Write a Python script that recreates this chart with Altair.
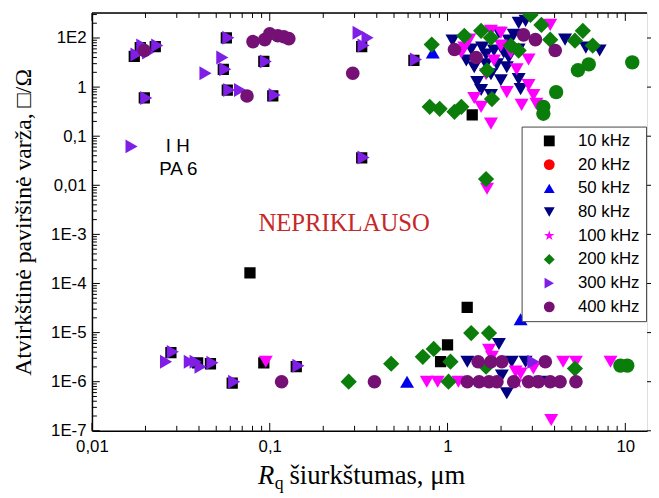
import altair as alt
import pandas as pd

# ---------------- series definitions ----------------
SERIES = ["10 kHz", "20 kHz", "50 kHz", "80 kHz", "100 kHz", "200 kHz", "300 kHz", "400 kHz"]
COLORS = ["#000000", "#ff0000", "#0000ee", "#000080", "#ff00ff", "#0a7d0a", "#7f1fe6", "#751075"]
STAR = ("M0,-1L0.2245,-0.309L0.951,-0.309L0.363,0.118L0.588,0.809L0,0.382"
        "L-0.588,0.809L-0.363,0.118L-0.951,-0.309L-0.2245,-0.309Z")
SHAPES = ["square", "circle", "triangle-up", "triangle-down", STAR, "diamond", "triangle-right", "circle"]
SIZES = {"10 kHz": 130, "20 kHz": 170, "50 kHz": 200, "80 kHz": 200, "100 kHz": 240,
         "200 kHz": 270, "300 kHz": 200, "400 kHz": 190}

# ---------------- data ----------------
f10_x = [0.0197, 0.0187, 0.0227, 0.0173, 0.0570, 0.0548, 0.0577, 0.0926, 0.104, 0.329, 0.329, 0.647,
         0.0278, 0.0393, 0.0464, 0.0615, 0.141, 0.0926, 0.0774, 1.29, 1.0, 0.914, 1.377]
f10_y = [0.60, 6.38, 6.68, 4.2, 10.1, 2.30, 0.87, 3.33, 0.66, 6.68, 0.036, 3.49,
         3.9e-6, 2.43e-6, 2.32e-6, 9.4e-7, 2.02e-6, 2.43e-6, 1.65e-4, 3.26e-5, 5.6e-6, 2.55e-6, 0.273]

f50_x = [0.826, 0.592, 2.577]
f50_y = [5.06, 1.0e-6, 1.87e-5]

f80_x = [1.066, 1.275, 1.564, 1.824, 1.896, 1.755, 1.468, 1.995, 2.154, 1.755,
         2.356, 2.512, 2.747, 4.582, 5.995, 7.172, 2.512, 2.512, 2.577, 1.647,
         2.21, 1.413, 2.07, 1.359, 1.647, 2.21, 1.945, 1.545,
         1.945, 2.021, 2.154, 2.297, 2.747, 3.327, 1.292]
f80_y = [8.83, 3.49, 6.38, 5.55, 2.90, 1.83, 1.26, 1.38, 2.53, 0.69,
         11.6, 20.3, 22.3, 9.25, 6.38, 5.55, 5.82, 1.45, 0.91, 2.90,
         4.01, 2.53, 5.06, 5.82, 4.6, 8.83, 12.8, 0.87,
         5.87e-6, 1.33e-6, 5.8e-7, 2.55e-6, 2.55e-6, 1.0e-6, 2.55e-6]

# 100 kHz: one drawn as a star, the rest drawn as magenta down-triangles in the picture
f100_star_x = [2.448]
f100_star_y = [1.0e-6]
f100_tri_x = [1.196, 1.325, 1.755, 1.995, 1.995, 1.647, 2.154, 1.413, 1.545, 1.755,
              3.781, 2.856, 2.448, 2.856, 3.041, 2.610, 3.162, 1.668, 0.095, 0.764,
              0.880, 1.151, 1.711, 1.778, 2.416, 2.577, 3.041, 4.467, 5.275, 8.254, 3.83,
              1.243, 2.27, 1.824]
f100_tri_y = [5.06, 9.25, 14.0, 12.8, 7.0, 1.83, 0.79, 0.60, 0.396, 0.180,
              18.5, 3.66, 2.30, 1.10, 0.69, 0.434, 0.455, 0.0085, 2.55e-6, 1.0e-6,
              1.0e-6, 1.0e-6, 4.44e-6, 3.21e-6, 1.60e-6, 1.46e-6, 1.85e-6, 2.55e-6, 2.55e-6, 2.55e-6, 1.66e-7,
              6.38, 5.06, 3.49]

# 200 kHz: diamonds, plus some drawn as round markers in the picture
f200_x = [0.815, 1.545, 1.755, 1.668, 2.929, 3.373, 3.781, 5.768, 5.207, 6.555,
          2.512, 1.778, 0.794, 0.903, 1.094, 1.196, 0.278, 0.482, 0.726, 0.836,
          1.359, 1.711, 1.039, 1.013, 1.647, 5.207, 1.647, 2.27, 1.243]
f200_y = [7.33, 14.0, 10.1, 2.20, 29.4, 18.5, 9.25, 14.0, 8.83, 7.0,
          5.55, 0.57, 0.396, 0.361, 0.314, 0.396, 1.0e-6, 2.32e-6, 3.21e-6, 4.65e-6,
          9.8e-6, 9.8e-6, 2.55e-6, 1.0e-6, 0.0134, 1.85e-6, 2.02e-6, 7.0, 11.1]
f200_round_x = [10.94, 5.412, 6.226, 4.084, 3.459, 3.459, 10.26, 9.38]
f200_round_y = [3.18, 2.20, 2.90, 0.79, 0.396, 0.286, 2.12e-6, 2.12e-6]

f300_x = [0.0167, 0.0178, 0.0192, 0.0207, 0.0233, 0.0202, 0.0435, 0.0585, 0.0541, 0.0562,
          0.0592, 0.0681, 0.095, 0.1066, 0.316, 0.355, 0.337, 0.337, 0.664, 0.0261,
          0.0285, 0.0355, 0.0383, 0.0408, 0.0476, 0.0631, 0.145, 3.04]
f300_y = [0.062, 4.61, 7.0, 5.06, 7.0, 0.60, 1.91, 10.1, 4.01, 2.30,
          0.87, 0.87, 3.33, 0.69, 12.8, 10.1, 7.0, 0.037, 3.66, 2.55e-6,
          4.05e-6, 2.55e-6, 2.55e-6, 2.02e-6, 2.43e-6, 1.0e-6, 2.12e-6, 2.55e-6]

f400_x = [0.0197, 0.0745, 0.0805, 0.0938, 0.1, 0.111, 0.120, 0.128, 0.293, 0.1166,
          1.094, 1.449, 2.677, 3.121, 4.033, 0.388, 1.486, 1.755, 2.021, 3.548,
          1.292, 1.506, 1.711, 1.896, 2.356, 2.856, 3.243, 3.781, 4.296, 5.275]
f400_y = [5.55, 0.66, 8.43, 9.25, 12.2, 11.1, 10.6, 9.7, 1.91, 1.0e-6,
          5.82, 4.01, 11.6, 9.25, 5.55, 1.0e-6, 2.55e-6, 2.55e-6, 2.55e-6, 2.55e-6,
          1.0e-6, 1.0e-6, 1.0e-6, 1.0e-6, 1.0e-6, 1.0e-6, 1.0e-6, 1.0e-6, 1.0e-6, 1.0e-6]

# ---------------- axes ----------------
X_MIN, X_MAX = 0.01, 13.25
Y_MIN, Y_MAX = 1e-7, 32.3
x_tick_values = [0.01, 0.1, 1, 10]
x_tick_labels = ["0,01", "0,1", "1", "10"]
y_tick_values = [1e-7, 1e-6, 1e-5, 1e-4, 1e-3, 0.01, 0.1, 1, 10]
y_tick_labels = ["1E-7", "1E-6", "1E-5", "1E-4", "1E-3", "0,01", "0,1", "1", "1E2"]

W, H = 562, 423
SANS = "Liberation Sans, Arial, sans-serif"
SERIF = "Liberation Serif, Times New Roman, serif"


def label_expr(values, labels):
    parts = [f"datum.value < {v * 3:g} ? '{l}' : " for v, l in zip(values[:-1], labels[:-1])]
    return "".join(parts) + f"'{labels[-1]}'"


def minor_ticks(majors, lo, hi):
    out = []
    for d in majors:
        for k in range(2, 10):
            v = d * k
            if lo < v < hi:
                out.append(v)
    return out


xs = alt.Scale(type="log", domain=[X_MIN, X_MAX], nice=False)
ys = alt.Scale(type="log", domain=[Y_MIN, Y_MAX], nice=False)

x_axis = alt.Axis(values=x_tick_values, labelExpr=label_expr(x_tick_values, x_tick_labels),
                  title=None, ticks=False, grid=False, domainColor="black", domainWidth=1.5,
                  labelFont=SANS, labelFontSize=17, labelColor="black", labelPadding=8,
                  labelFlush=False, labelOverlap=False)
y_axis = alt.Axis(values=y_tick_values, labelExpr=label_expr(y_tick_values, y_tick_labels),
                  title="Atvirkštinė paviršinė varža, □/Ω", titleFont=SERIF, titleFontSize=24,
                  titleFontWeight="normal", titleColor="black", titleX=-69, titleY=H / 2,
                  titleAngle=270, titleBaseline="middle", titleAlign="center",
                  ticks=False, grid=False, domainColor="black", domainWidth=1.5,
                  labelFont=SANS, labelFontSize=17, labelColor="black", labelPadding=6,
                  labelOverlap=False)

X = lambda f: alt.X(f, scale=xs, axis=x_axis)
Y = lambda f: alt.Y(f, scale=ys, axis=y_axis)

legend = alt.Legend(title=None, orient="none", legendX=435, legendY=115,
                    strokeColor="#444444", fillColor="white", padding=6, rowPadding=6,
                    labelFont=SANS, labelFontSize=17, labelColor="black",
                    symbolSize=120, symbolOffset=13.5, labelOffset=20.5, symbolStrokeWidth=0)
color_enc = alt.Color("series:N", scale=alt.Scale(domain=SERIES, range=COLORS), legend=legend)
shape_enc = alt.Shape("series:N", scale=alt.Scale(domain=SERIES, range=SHAPES), legend=legend)


def series_layer(name, xv, yv):
    df = pd.DataFrame({"x": xv, "y": yv, "series": name})
    return alt.Chart(df).mark_point(filled=True, opacity=1, size=SIZES[name], clip=True).encode(
        x=X("x:Q"), y=Y("y:Q"), color=color_enc, shape=shape_enc)


def extra_layer(xv, yv, color, shape, size):
    df = pd.DataFrame({"x": xv, "y": yv})
    return alt.Chart(df).mark_point(filled=True, opacity=1, size=size, clip=True).encode(
        x=X("x:Q"), y=Y("y:Q"), color=alt.value(color), shape=alt.value(shape))


point_layers = [
    series_layer("10 kHz", f10_x, f10_y),
    series_layer("50 kHz", f50_x, f50_y),
    series_layer("80 kHz", f80_x, f80_y),
    extra_layer(f100_tri_x, f100_tri_y, COLORS[4], "triangle-down", 200),
    series_layer("100 kHz", f100_star_x, f100_star_y),
    series_layer("200 kHz", f200_x, f200_y),
    extra_layer(f200_round_x, f200_round_y, COLORS[5], "circle", 210),
    series_layer("300 kHz", f300_x, f300_y),
    series_layer("400 kHz", f400_x, f400_y),
]

# ---------------- inward ticks and frame ----------------
x_minor = minor_ticks(x_tick_values, X_MIN, X_MAX)
y_minor = minor_ticks(y_tick_values, Y_MIN, Y_MAX)


def xticks(vals, y1, y2):
    return alt.Chart(pd.DataFrame({"v": vals})).mark_rule(color="black", strokeWidth=1).encode(
        x=X("v:Q"), y=alt.value(y1), y2=alt.value(y2))


def yticks(vals, x1, x2):
    return alt.Chart(pd.DataFrame({"v": vals})).mark_rule(color="black", strokeWidth=1).encode(
        y=Y("v:Q"), x=alt.value(x1), x2=alt.value(x2))


tick_layers = [
    xticks(x_tick_values, H - 8, H), xticks(x_minor, H - 5, H),
    xticks(x_tick_values, 0, 8), xticks(x_minor, 0, 5),
    yticks(y_tick_values, 0, 8), yticks(y_minor, 0, 5),
    yticks(y_tick_values, W, W + 5),
]
top_border = alt.Chart(pd.DataFrame({"a": [0]})).mark_rule(color="black", strokeWidth=1.5).encode(
    x=alt.value(0), x2=alt.value(W), y=alt.value(0))

# ---------------- annotations ----------------
note_df = pd.DataFrame({"x": [0.262], "y": [1.67e-3], "t": ["NEPRIKLAUSO"]})
note = alt.Chart(note_df).mark_text(font=SERIF, fontSize=25, color="#c62828", baseline="middle").encode(
    x=X("x:Q"), y=Y("y:Q"), text="t:N")
sample_df = pd.DataFrame({"x": [0.0304, 0.0306], "y": [0.062, 0.0214], "t": ["I H", "PA 6"]})
sample = alt.Chart(sample_df).mark_text(font=SANS, fontSize=19, color="black", baseline="middle").encode(
    x=X("x:Q"), y=Y("y:Q"), text="t:N")

xt_R = alt.Chart(pd.DataFrame({"t": ["R"]})).mark_text(
    font=SERIF, fontSize=27, fontStyle="italic", align="left", baseline="alphabetic", color="black").encode(
    x=alt.value(168), y=alt.value(H + 54), text="t:N")
xt_q = alt.Chart(pd.DataFrame({"t": ["q"]})).mark_text(
    font=SERIF, fontSize=18, align="left", baseline="alphabetic", color="black").encode(
    x=alt.value(185), y=alt.value(H + 59), text="t:N")
xt_main = alt.Chart(pd.DataFrame({"t": ["šiurkštumas, μm"]})).mark_text(
    font=SERIF, fontSize=27, align="left", baseline="alphabetic", color="black").encode(
    x=alt.value(200), y=alt.value(H + 54), text="t:N")

chart = alt.layer(*tick_layers, top_border, *point_layers, note, sample, xt_R, xt_q, xt_main).properties(
    width=W, height=H,
    padding={"left": 85, "top": 2, "right": 4, "bottom": 66},
    autosize=alt.AutoSizeParams(type="none"),
).configure_view(stroke=None).configure(background="white")

chart.save("out.html", embed_options={"renderer": "svg", "actions": False})
